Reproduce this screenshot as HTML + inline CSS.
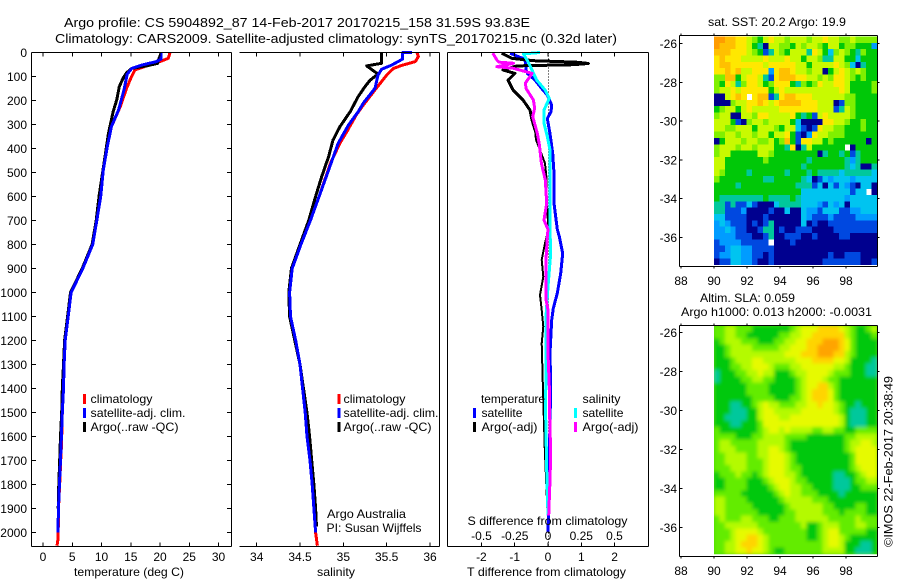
<!DOCTYPE html>
<html>
<head>
<meta charset="utf-8">
<title>Argo profile</title>
<style>
html,body{margin:0;padding:0;background:#fff;}
svg{display:block;}
text{font-family:"Liberation Sans",sans-serif;font-size:12px;fill:#000;}
</style>
</head>
<body>
<svg id="chart" xmlns="http://www.w3.org/2000/svg" width="900" height="580" viewBox="0 0 900 580">
  <defs>
    <clipPath id="sla-clip"><rect x="714" y="325.7" width="163" height="228.5"/></clipPath>
    <filter id="sla-blur" x="-5%" y="-5%" width="110%" height="110%"><feGaussianBlur stdDeviation="1.8"/></filter>
  </defs>
  <g id="sstCells"></g>
  <g clip-path="url(#sla-clip)">
    <g filter="url(#sla-blur)">
      <rect x="706" y="318" width="179" height="244" fill="#40d800"/>
      <g id="slaCells"></g>
    </g>
  </g>
  <g id="profiles"></g>
  <g id="axes"></g>

  <text x="64" y="27" style="font-size:13px" textLength="466" lengthAdjust="spacingAndGlyphs">Argo profile: CS 5904892_87 14-Feb-2017 20170215_158 31.59S 93.83E</text>
  <text x="55" y="43" style="font-size:13px" textLength="562" lengthAdjust="spacingAndGlyphs">Climatology: CARS2009. Satellite-adjusted climatology: synTS_20170215.nc (0.32d later)</text>

  <text x="74" y="576" textLength="110" lengthAdjust="spacingAndGlyphs">temperature (deg C)</text>
  <text x="317" y="576" textLength="38" lengthAdjust="spacingAndGlyphs">salinity</text>
  <text x="467" y="576" textLength="159" lengthAdjust="spacingAndGlyphs">T difference from climatology</text>
  <text x="467.5" y="525" textLength="160" lengthAdjust="spacingAndGlyphs">S difference from climatology</text>

  <g>
    <rect x="83" y="394" width="3" height="10" fill="#ff0000"/>
    <text x="90.5" y="403" textLength="62" lengthAdjust="spacingAndGlyphs">climatology</text>
    <rect x="83" y="408" width="3" height="10" fill="#0000ff"/>
    <text x="90.5" y="417" textLength="95" lengthAdjust="spacingAndGlyphs">satellite-adj. clim.</text>
    <rect x="83" y="422" width="3" height="10" fill="#000000"/>
    <text x="90.5" y="431" textLength="88" lengthAdjust="spacingAndGlyphs">Argo(..raw -QC)</text>
  </g>
  <g>
    <rect x="337.5" y="394" width="3" height="10" fill="#ff0000"/>
    <text x="343.5" y="403" textLength="62" lengthAdjust="spacingAndGlyphs">climatology</text>
    <rect x="337.5" y="408" width="3" height="10" fill="#0000ff"/>
    <text x="343.5" y="417" textLength="95" lengthAdjust="spacingAndGlyphs">satellite-adj. clim.</text>
    <rect x="337.5" y="422" width="3" height="10" fill="#000000"/>
    <text x="343.5" y="431" textLength="88" lengthAdjust="spacingAndGlyphs">Argo(..raw -QC)</text>
    <text x="327" y="518" textLength="79" lengthAdjust="spacingAndGlyphs">Argo Australia</text>
    <text x="326.5" y="532" textLength="95" lengthAdjust="spacingAndGlyphs">PI: Susan Wijffels</text>
  </g>
  <g>
    <text x="481" y="403" textLength="64" lengthAdjust="spacingAndGlyphs">temperature</text>
    <rect x="473" y="408" width="3" height="10" fill="#0000ff"/>
    <text x="481.5" y="417" textLength="41" lengthAdjust="spacingAndGlyphs">satellite</text>
    <rect x="473" y="422" width="3" height="10" fill="#000000"/>
    <text x="481.5" y="431" textLength="56" lengthAdjust="spacingAndGlyphs">Argo(-adj)</text>
    <text x="582.5" y="403" textLength="38" lengthAdjust="spacingAndGlyphs">salinity</text>
    <rect x="574" y="408" width="3" height="10" fill="#00ffff"/>
    <text x="582.5" y="417" textLength="41" lengthAdjust="spacingAndGlyphs">satellite</text>
    <rect x="574" y="422" width="3" height="10" fill="#ff00ff"/>
    <text x="582.5" y="431" textLength="56" lengthAdjust="spacingAndGlyphs">Argo(-adj)</text>
  </g>

  <text x="708" y="26" textLength="138" lengthAdjust="spacingAndGlyphs">sat. SST: 20.2 Argo: 19.9</text>
  <text x="700" y="302" textLength="95" lengthAdjust="spacingAndGlyphs">Altim. SLA: 0.059</text>
  <text x="681" y="316" textLength="191" lengthAdjust="spacingAndGlyphs">Argo h1000: 0.013 h2000: -0.0031</text>
  <text transform="translate(892.5,547) rotate(-90)" x="0" y="0" textLength="171" lengthAdjust="spacingAndGlyphs">©IMOS 22-Feb-2017 20:38:49</text>
</svg>

<script>
// ---------- Temperature panel series ----------
const tempClimDepth = [0,10,24,38,56,73,107,148,226,309,392,490,600,700,800,900,1000,1100,1200,1300,1400,1500,1650,1660,1770,1900,2000,2030,2055];
const tempClimVals  = [21.7,21.6,21.4,20,17.7,15.7,15,14.3,13.2,11.7,11,10.3,9.86,9.2,8.5,6.8,4.8,4.3,3.8,3.6,3.5,3.3,3.15,3.1,2.9,2.65,2.6,2.55,2.4];
const tempSatDepth  = [0,27,38,52,66,90,156,240,309,392,490,600,700,800,900,1000,1100,1200,1300,1400,1500,1600,1700,1800,1900,2000];
const tempSatVals   = [20.2,20.2,19.4,16.9,15.2,14.4,13.85,12.9,11.7,11,10.3,9.86,9.2,8.5,6.8,4.8,4.3,3.8,3.6,3.5,3.3,3.15,3,2.8,2.65,2.55];
const tempArgoDepth = [0,35,45,56,66,84,107,142,198,246,336,434,594,700,800,900,1000,1100,1200,1300,1400,1500,1600,1700,1800,1900];
const tempArgoVals  = [20.2,19.7,19.6,17.7,15.2,14.3,13.7,13.05,12.6,12,11.2,10.6,9.6,9.1,8.4,6.7,4.7,4.2,3.7,3.5,3.3,3.2,3,2.85,2.7,2.6];

// ---------- Salinity panel series ----------
const salClimDepth = [0,17,38,52,66,94,156,219,260,330,378,462,600,700,800,900,1000,1100,1200,1300,1400,1500,1600,1700,1800,1900,2000,2055];
const salClimVals  = [35.85,35.865,35.83,35.69,35.58,35.5,35.365,35.23,35.15,35.04,34.96,34.85,34.72,34.62,34.51,34.41,34.38,34.39,34.45,34.5,34.53,34.56,34.58,34.615,34.64,34.66,34.68,34.7];
const salSatDepth  = [0,0,27,52,70,94,149,211,247,302,378,490,600,700,800,900,1000,1100,1200,1300,1400,1500,1600,1700,1800,1900,2000];
const salSatVals   = [35.79,35.685,35.685,35.56,35.44,35.4,35.365,35.23,35.17,35.06,34.94,34.83,34.72,34.62,34.51,34.41,34.38,34.39,34.45,34.5,34.53,34.56,34.58,34.615,34.64,34.66,34.68];
const salArgoDepth = [0,45,56,90,115,142,184,246,309,365,434,517,600,700,800,900,1000,1100,1200,1300,1400,1500,1600,1700,1800,1900,1976];
const salArgoVals  = [35.44,35.44,35.27,35.4,35.31,35.25,35.17,35.08,34.96,34.88,34.83,34.75,34.68,34.6,34.5,34.4,34.37,34.38,34.44,34.5,34.54,34.58,34.61,34.635,34.66,34.68,34.69];

// ---------- Difference panel series ----------
const dTSatDepth  = [3,20,28,70,87,115,150,177,219,247,275,338,420,503,628,737,767,837,920,1003,1066,1114,1253,1392,1600,1900,2000];
const dTSatVals   = [-1.14,-0.84,-0.69,-0.66,-0.62,-0.39,-0.19,-0.02,0.11,0.09,-0.02,0.06,0.14,0.18,0.18,0.28,0.34,0.44,0.38,0.28,0.16,0.11,0.06,0.08,0.05,0.02,0];
const dTArgoUpperDepth = [3,24,34,38,41,46,51,56,73,87,115,156,198,240,281,323];
const dTArgoUpperVals  = [-1.39,-1.09,-0.44,0.36,0.91,1.21,0.76,-0.94,-1.35,-0.99,-1.2,-1.05,-0.75,-0.54,-0.48,-0.39];
const dTArgoDeepDepth  = [323,364,406,462,531,600,737,795,864,934,1010,1073,1142,1212,1364,1642,1900];
const dTArgoDeepVals   = [-0.39,-0.36,-0.24,-0.09,-0.04,-0.04,0.01,-0.09,-0.19,-0.14,-0.24,-0.19,-0.14,-0.19,-0.16,-0.1,-0.02];
const dSSatDepth  = [0,6,38,73,115,157,191,240,295,350,406,737,837,976,1100,1392,1430,1740,1930];
const dSSatVals   = [-0.06,-0.185,-0.15,-0.12,-0.085,-0.02,0.01,-0.03,-0.03,-0.005,0.015,0.015,0.02,0,-0.015,-0.015,-0.02,-0.01,0];
const dSArgoDepth = [3,31,40,45,59,66,87,128,150,198,232,267,338,385,462,531,628,698,737,767,864,1030,1073,1253,1392,1460,1670,1780,1930];
const dSArgoVals  = [-0.415,-0.385,-0.37,-0.26,-0.385,-0.26,-0.12,-0.17,-0.165,-0.11,-0.1,-0.115,-0.08,-0.065,-0.05,-0.02,-0.01,-0.03,0,-0.005,-0.015,-0.015,0,0,0.01,0.01,0.02,0.015,0.005];

// ---------- Tick labels ----------
const depthTicks = [0,100,200,300,400,500,600,700,800,900,1000,1100,1200,1300,1400,1500,1600,1700,1800,1900,2000];
const tempTicks  = [0,5,10,15,20,25,30];
const salTicks   = [34,34.5,35,35.5,36];
const dTTicks    = [-2,-1,0,1,2];
const dSTicks    = [-0.5,-0.25,0,0.25,0.5];
const lonTicks   = [88,90,92,94,96,98];
const latTicks   = [-26,-28,-30,-32,-34,-36];

// ---------- SST map levels (rows north to south, columns west to east; null = no data) ----------
const sstGrid = [
[10,10,9,9,8,8,7,6,5,7,8,7,7,6,7,7,7,6,7,7,8,7,7,6,6,7,6,6,6,6],
[10,9,9,9,8,8,7,5,4,0,7,7,6,6,5,7,6,7,7,6,5,7,7,5,6,6,5,5,5,2],
[9,9,9,8,8,8,7,6,5,1,4,7,6,5,7,7,7,4,8,7,5,3,6,7,6,5,4,6,5,5],
[8,9,8,8,8,7,7,7,7,8,7,7,7,8,7,7,5,7,7,6,4,4,7,7,5,5,3,5,5,5],
[8,9,9,8,8,8,8,8,8,7,8,8,8,8,8,7,7,5,7,7,7,7,8,7,6,3,0,4,5,5],
[8,8,9,8,9,7,7,8,8,8,2,8,9,9,8,7,7,6,7,7,0,5,7,8,7,6,7,6,5,5],
[6,6,9,9,5,7,8,8,7,4,1,8,9,9,9,8,8,7,7,6,7,6,8,8,7,6,5,6,5,5],
[6,5,8,7,4,6,8,8,7,5,6,8,8,8,5,4,6,5,6,8,7,7,8,8,7,5,5,5,5,6],
[6,7,7,8,7,8,8,8,8,8,5,7,8,7,7,7,7,7,7,7,7,7,7,8,7,5,5,5,5,6],
[0,0,7,8,9,8,null,8,9,9,1,4,8,9,9,8,8,8,7,7,7,7,7,7,6,6,5,5,5,5],
[0,0,0,6,7,7,8,8,9,8,7,8,9,9,9,9,8,8,8,7,7,7,0,1,6,6,5,5,5,5],
[5,6,7,7,5,7,8,7,7,7,7,7,8,8,8,8,8,8,8,7,7,7,1,4,7,6,5,5,5,5],
[6,7,7,0,0,7,7,6,8,8,7,7,7,7,8,5,4,5,1,7,8,7,7,7,7,6,5,5,5,5],
[7,7,7,5,1,0,6,7,7,6,7,7,7,7,5,3,0,0,0,0,8,8,7,7,6,5,5,6,5,5],
[7,7,6,6,7,7,7,5,7,7,7,6,5,7,7,3,1,0,1,8,7,7,6,6,5,5,5,6,5,5],
[6,6,7,7,6,7,7,6,7,7,5,7,7,8,5,1,0,2,8,7,7,6,6,6,5,5,5,5,5,5],
[0,5,7,7,7,6,7,7,6,6,7,5,6,9,5,1,8,8,7,7,5,6,5,5,5,5,5,5,0,5],
[6,7,7,7,6,7,7,6,7,7,7,5,5,4,8,0,4,7,5,5,5,5,5,5,null,0,5,5,5,5],
[6,7,7,5,5,5,5,5,7,7,6,5,5,5,5,5,5,5,5,0,4,5,5,4,5,1,4,5,5,5],
[7,7,5,5,5,5,5,5,5,6,5,5,5,5,5,5,5,4,5,5,5,5,5,5,4,2,4,5,5,5],
[7,7,5,5,5,5,5,5,5,5,5,5,5,5,5,5,4,5,5,5,5,5,5,5,4,3,4,0,0,4],
[7,6,5,5,5,5,4,5,5,5,5,5,5,4,5,5,5,4,5,4,4,4,4,3,4,4,4,4,4,3],
[6,5,5,5,5,5,5,5,5,4,4,5,5,5,5,5,4,3,0,1,3,2,3,3,3,2,3,3,3,3],
[5,5,5,5,4,5,5,5,5,5,5,5,5,5,5,4,4,4,1,3,0,3,1,3,2,1,0,3,3,0],
[5,5,5,5,5,5,5,5,5,5,5,5,5,5,5,5,3,3,3,3,3,3,3,3,3,1,3,3,null,0],
[5,4,4,4,4,4,4,4,4,5,4,4,4,4,5,4,3,3,3,3,3,3,3,3,2,3,3,3,3,3],
[4,4,1,4,1,1,3,1,0,0,0,3,4,4,4,4,3,3,3,2,1,3,2,3,0,3,3,3,3,3],
[4,4,1,1,1,2,0,0,0,0,1,0,0,3,0,0,3,2,2,1,3,3,3,1,1,2,2,3,3,3],
[3,3,1,1,1,1,0,0,0,1,0,0,0,0,0,0,3,2,1,1,1,2,1,1,1,1,2,2,2,2],
[2,3,2,1,1,1,0,1,0,1,4,0,0,0,0,0,3,0,1,0,0,1,1,1,1,1,1,1,1,1],
[2,2,3,2,1,1,0,0,1,4,4,0,1,0,0,1,1,1,0,0,0,0,1,1,1,1,1,1,1,1],
[2,2,2,2,1,1,1,0,0,1,4,0,0,1,1,1,0,0,1,0,0,0,0,1,1,0,0,0,0,0],
[1,2,2,2,2,1,1,1,1,1,null,0,0,0,1,0,0,0,0,0,0,0,0,0,0,0,0,0,0,0],
[1,1,2,3,3,2,2,1,1,1,1,0,0,0,0,0,0,0,0,0,0,0,0,0,0,0,0,0,0,0],
[1,2,2,3,3,2,2,1,1,0,1,0,0,0,0,0,0,0,0,0,0,1,0,0,1,1,1,0,0,0],
[0,1,1,3,3,2,2,1,0,0,1,0,0,0,0,0,0,0,0,0,1,1,1,1,1,1,1,0,0,1]
];

// ---------- SLA map levels ----------
const slaGrid = [
[6,6,7,7,6,6,6,5,5,5,5,5,5,5,6,7,8,8,8,9,9,9,9,8,7,6,5,5,6,7],
[6,6,7,7,6,6,5,5,5,5,5,5,6,6,7,7,8,8,9,9,9,9,9,9,7,6,5,5,5,6],
[5,6,7,7,7,6,6,6,5,5,5,6,6,7,7,8,8,9,9,9,10,10,10,9,8,6,5,5,5,5],
[5,5,6,7,7,7,7,6,6,6,6,6,7,7,8,8,8,9,9,10,10,10,10,9,8,6,5,5,5,5],
[5,5,6,7,7,7,7,7,7,7,7,7,7,8,8,8,9,9,9,10,10,10,9,9,7,6,5,5,5,5],
[5,5,5,6,7,7,7,8,8,7,7,7,7,7,7,8,8,8,9,9,9,9,8,8,7,5,5,5,5,4],
[5,5,5,6,6,7,7,8,8,8,7,6,6,6,7,7,8,8,8,8,8,8,7,7,6,5,5,5,4,4],
[4,5,5,5,6,6,7,7,8,7,7,5,5,5,6,7,7,8,8,8,8,7,6,6,6,5,5,5,4,4],
[4,5,5,5,5,6,6,7,7,6,6,5,5,5,5,6,7,8,8,8,7,6,6,5,5,5,5,5,5,5],
[5,5,5,5,5,5,6,6,6,6,5,5,5,5,5,6,7,8,8,9,9,7,6,5,5,5,5,5,5,5],
[5,5,5,5,5,5,6,6,6,6,5,5,5,5,5,6,7,8,9,9,9,8,6,5,5,5,5,5,5,5],
[5,5,5,5,5,5,5,6,6,6,6,5,5,5,6,6,7,8,9,9,9,8,6,5,5,5,5,5,5,5],
[5,5,5,4,4,5,5,6,7,8,7,7,6,6,6,7,7,8,8,9,8,8,7,6,5,5,4,5,5,5],
[5,5,5,4,4,4,5,5,7,8,8,7,7,7,7,7,8,8,8,8,8,8,7,6,5,4,4,4,5,5],
[5,5,4,4,4,4,5,5,7,8,8,8,7,7,8,8,8,8,8,8,8,8,8,7,5,4,4,4,5,5],
[5,5,5,4,4,5,5,5,6,8,8,8,8,8,8,8,8,8,8,8,8,8,8,7,5,4,4,4,5,5],
[6,5,5,5,5,5,5,5,6,7,8,8,7,8,7,7,7,7,6,6,7,7,6,6,5,5,6,6,6,6],
[6,6,6,6,5,5,5,6,6,7,7,7,7,6,6,6,6,5,5,5,5,5,5,5,6,6,7,7,7,7],
[6,7,7,6,6,6,6,6,7,7,7,7,7,6,5,5,5,5,5,5,5,5,5,5,6,7,7,8,8,7],
[6,7,7,7,6,6,6,6,7,7,8,8,7,6,5,5,5,5,5,5,5,5,5,5,6,7,8,8,8,8],
[6,6,7,7,7,7,6,6,7,7,8,8,8,7,6,5,5,5,5,5,5,5,5,5,5,6,8,8,8,8],
[6,6,7,7,7,7,6,6,6,7,8,8,8,7,6,5,5,5,5,5,5,5,5,5,5,6,8,8,8,8],
[6,6,6,7,7,7,6,6,6,7,8,8,8,7,6,6,5,5,5,5,5,5,5,5,5,6,7,8,8,8],
[5,6,6,6,7,6,6,5,6,7,8,8,8,7,7,6,5,5,5,5,5,5,4,4,5,5,6,7,8,8],
[5,5,6,6,6,6,5,5,5,6,7,8,8,8,7,6,6,5,5,5,5,5,4,4,4,5,6,6,7,7],
[5,5,6,6,6,6,5,5,5,5,6,7,8,8,7,7,6,6,5,5,5,5,4,4,4,5,5,6,6,6],
[6,6,6,6,6,5,5,5,5,5,5,6,7,8,7,7,6,6,6,5,5,5,5,4,5,5,5,5,5,5],
[7,7,6,6,6,6,5,5,5,5,5,5,6,7,7,7,7,7,6,6,6,5,5,5,5,5,5,5,5,5],
[7,7,6,6,6,6,6,5,5,5,5,5,5,6,7,7,7,7,7,7,6,6,5,5,5,5,6,6,5,5],
[7,7,6,6,6,6,6,6,5,5,5,5,5,6,6,7,7,7,7,7,6,6,6,5,6,6,6,6,5,5],
[6,7,6,6,6,7,7,6,6,6,5,5,6,6,6,7,7,7,7,7,7,6,6,6,6,6,7,6,6,6],
[6,6,7,7,7,7,7,7,6,6,6,6,6,6,6,6,7,5,5,6,7,7,7,6,6,6,7,7,6,6],
[6,6,6,7,8,8,8,8,7,6,6,6,6,6,6,6,6,5,5,6,7,8,8,6,6,6,6,6,5,5],
[6,6,6,7,8,8,9,9,8,7,6,6,6,6,6,6,6,5,5,6,7,8,8,7,6,5,5,5,5,5],
[6,6,7,7,8,9,9,9,8,7,6,6,6,6,6,6,6,6,6,6,7,8,8,7,5,5,5,4,4,5],
[6,6,7,7,8,8,9,8,8,7,6,5,5,6,6,6,6,6,6,6,7,7,7,7,5,5,4,4,4,5]
];

const sstColors = ['#00008f','#0048e0','#009cff','#00c4f0','#00c89c','#00c808','#80f000','#c8fa00','#ffe800','#ffc000','#ff9c00'];
const slaColors = ['#00008f','#0048e0','#009cff','#00c4f0','#00c89c','#00c808','#64ec00','#b4fa00','#e6fa00','#ffd400','#ffa400'];

// ---------- Axis functions ----------
const yDepth = d => 52.5 + 0.24 * d;
const xTemp  = t => 43 + 5.85 * t;
const xSal   = s => 256.7 + 86.65 * (s - 34);
const xDT    = v => 548 + 33.3 * v;
const xDS    = v => 548 + 133 * v;
const xLon   = lon => 714 + 16.5 * (lon - 90);
const ySst   = lat => 43.5 + 19.4 * (-26 - lat);
const ySla   = lat => 332.7 + 19.47 * (-26 - lat);

const NS = 'http://www.w3.org/2000/svg';
const gSst  = document.getElementById('sstCells');
const gSla  = document.getElementById('slaCells');
const gProf = document.getElementById('profiles');
const gAxes = document.getElementById('axes');

function seg(parent, name, x1, y1, x2, y2) {
  const el = document.createElementNS(NS, 'line');
  
  
  el.setAttribute('x1', x1);
  el.setAttribute('y1', y1);
  el.setAttribute('x2', x2);
  el.setAttribute('y2', y2);
  el.setAttribute('stroke', '#000');
  el.setAttribute('stroke-width', '1');
  el.setAttribute('shape-rendering', 'crispEdges');
  parent.appendChild(el);
  return el;
}

function label(name, txt, x, y, anchor) {
  const el = document.createElementNS(NS, 'text');
  
  
  el.setAttribute('x', x);
  el.setAttribute('y', y);
  el.setAttribute('text-anchor', anchor);
  el.textContent = txt;
  gAxes.appendChild(el);
  return el;
}

function profile(name, depths, vals, xFn, color, width) {
  const el = document.createElementNS(NS, 'polyline');
  
  
  el.setAttribute('points', depths.map((d, i) => xFn(vals[i]).toFixed(1) + ',' + yDepth(d).toFixed(1)).join(' '));
  el.setAttribute('fill', 'none');
  el.setAttribute('stroke', color);
  el.setAttribute('stroke-width', width);
  el.setAttribute('stroke-linejoin', 'round');
  el.setAttribute('shape-rendering', 'crispEdges');
  gProf.appendChild(el);
  return el;
}

function heatmap(parent, name, grid, palette, yFn, latTop, latBottom) {
  const rows = grid.length;
  const lonStep = 9.88 / 30;
  const latStep = (latTop - latBottom) / rows;
  grid.forEach((row, r) => {
    row.forEach((v, c) => {
      if (v === null) return;
      const x0 = xLon(90 + c * lonStep);
      const x1 = xLon(90 + (c + 1) * lonStep);
      const y0 = yFn(latTop - r * latStep);
      const y1 = yFn(latTop - (r + 1) * latStep);
      const el = document.createElementNS(NS, 'rect');
      
      
      el.setAttribute('x', x0.toFixed(2));
      el.setAttribute('y', y0.toFixed(2));
      el.setAttribute('width', (x1 - x0 + 0.4).toFixed(2));
      el.setAttribute('height', (y1 - y0 + 0.4).toFixed(2));
      el.setAttribute('fill', palette[Math.max(0, Math.min(10, Math.round(v)))]);
      el.setAttribute('shape-rendering', 'crispEdges');
      parent.appendChild(el);
    });
  });
}

// ---------- Maps ----------
heatmap(gSst, 'sst-cell', sstGrid, sstColors, ySst, -25.64, -37.4);
heatmap(gSla, 'sla-cell', slaGrid, slaColors, ySla, -25.64, -37.35);

// ---------- Profiles ----------
profile('temperature-climatology-line', tempClimDepth, tempClimVals, xTemp, '#ff0000', 3);
profile('temperature-argo-line', tempArgoDepth, tempArgoVals, xTemp, '#000000', 3);
profile('temperature-satellite-line', tempSatDepth, tempSatVals, xTemp, '#0000ff', 3);

profile('salinity-climatology-line', salClimDepth, salClimVals, xSal, '#ff0000', 3);
profile('salinity-argo-line', salArgoDepth, salArgoVals, xSal, '#000000', 3);
profile('salinity-satellite-line', salSatDepth, salSatVals, xSal, '#0000ff', 3);

const zero = seg(gProf, 'zero-difference-line', 548.5, 52.5, 548.5, 546.5);
zero.setAttribute('stroke-dasharray', '1 2');
profile('t-difference-satellite-line', dTSatDepth, dTSatVals, xDT, '#0000ff', 3);
profile('t-difference-argo-upper-line', dTArgoUpperDepth, dTArgoUpperVals, xDT, '#000000', 3);
profile('t-difference-argo-deep-line', dTArgoDeepDepth, dTArgoDeepVals, xDT, '#000000', 2);
profile('s-difference-satellite-line', dSSatDepth, dSSatVals, xDS, '#00ffff', 3);
profile('s-difference-argo-line', dSArgoDepth, dSArgoVals, xDS, '#ff00ff', 3);

// ---------- Panel frames ----------
const pTop = 52.5, pBot = 546.5;
seg(gAxes, 'temperature-frame-top', 31.5, pTop, 231.5, pTop);
seg(gAxes, 'temperature-frame-bottom', 31.5, pBot, 231.5, pBot);
seg(gAxes, 'temperature-frame-left', 31.5, pTop, 31.5, pBot);
seg(gAxes, 'temperature-frame-right', 231.5, pTop, 231.5, pBot);
seg(gAxes, 'salinity-frame-top', 239.5, pTop, 439.5, pTop);
seg(gAxes, 'salinity-frame-bottom', 239.5, pBot, 439.5, pBot);
seg(gAxes, 'salinity-frame-right', 439.5, pTop, 439.5, pBot);
seg(gAxes, 'difference-frame-top', 447.5, pTop, 648.5, pTop);
seg(gAxes, 'difference-frame-bottom', 447.5, pBot, 648.5, pBot);
seg(gAxes, 'difference-frame-left', 447.5, pTop, 447.5, pBot);
seg(gAxes, 'difference-frame-right', 648.5, pTop, 648.5, pBot);

// ---------- Depth ticks ----------
depthTicks.forEach(d => {
  const y = yDepth(d);
  seg(gAxes, 'depth-tick-left', 31.5, y, 36, y);
  seg(gAxes, 'depth-tick-right', 227, y, 231.5, y);
  label('depth-tick-label', String(d), 27, y + 4.5, 'end');
});

// ---------- Bottom axes ----------
tempTicks.forEach(t => {
  const x = xTemp(t);
  seg(gAxes, 'temperature-tick-top', x, pTop, x, pTop + 4);
  seg(gAxes, 'temperature-tick-bottom', x, pBot - 4, x, pBot);
  label('temperature-tick-label', String(t), x, 561, 'middle');
});
salTicks.forEach(s => {
  const x = xSal(s);
  seg(gAxes, 'salinity-tick-top', x, pTop, x, pTop + 4);
  seg(gAxes, 'salinity-tick-bottom', x, pBot - 4, x, pBot);
  label('salinity-tick-label', String(s), x, 561, 'middle');
});
dTTicks.forEach(v => {
  const x = xDT(v);
  seg(gAxes, 't-difference-tick-top', x, pTop, x, pTop + 4);
  seg(gAxes, 't-difference-tick-bottom', x, pBot - 4, x, pBot);
  label('t-difference-tick-label', String(v), x, 561, 'middle');
});
dSTicks.forEach(v => {
  label('s-difference-tick-label', String(v), xDS(v), 540, 'middle');
});

// ---------- Map frames and ticks ----------
function mapFrame(prefix, top, bottom, yFn, lonLabelY) {
  const left = 679.5, right = 877.5;
  seg(gAxes, prefix + '-frame-top', left, top, right, top);
  seg(gAxes, prefix + '-frame-bottom', left, bottom, right, bottom);
  seg(gAxes, prefix + '-frame-left', left, top, left, bottom);
  seg(gAxes, prefix + '-frame-right', right, top, right, bottom);
  lonTicks.forEach(lon => {
    const x = xLon(lon);
    seg(gAxes, prefix + '-lon-tick-top', x, top - 2, x, top);
    seg(gAxes, prefix + '-lon-tick-bottom', x, bottom, x, bottom + 2);
    label(prefix + '-lon-label', String(lon), x, lonLabelY, 'middle');
  });
  latTicks.forEach(lat => {
    const y = yFn(lat);
    seg(gAxes, prefix + '-lat-tick-left', left, y, left + 3, y);
    seg(gAxes, prefix + '-lat-tick-right', right, y, right + 2, y);
    label(prefix + '-lat-label', String(lat), 677, y + 4.5, 'end');
  });
}
mapFrame('sst-map', 35.5, 266.5, ySst, 285);
mapFrame('sla-map', 325.5, 556.5, ySla, 575);
</script>
</body>
</html>
